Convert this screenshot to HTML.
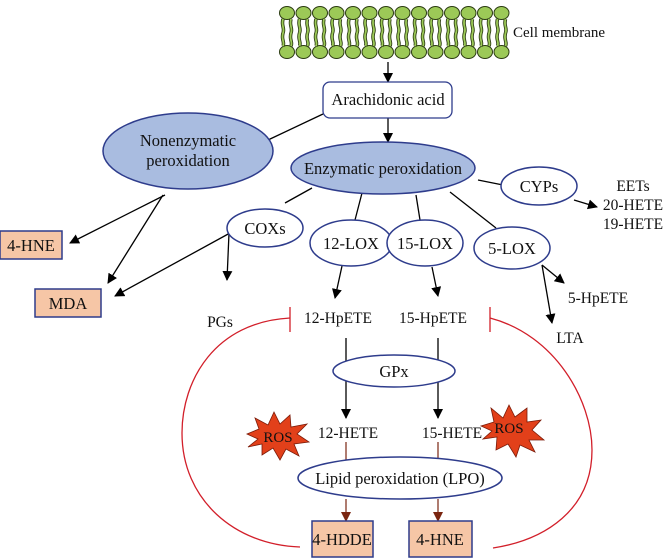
<!DOCTYPE html>
<html><head><meta charset="utf-8"><style>
html,body{margin:0;padding:0;background:#fff;}
svg{display:block;}
text{font-family:"Liberation Serif",serif;fill:#111;}
</style></head><body>
<svg width="669" height="558" viewBox="0 0 669 558" xmlns="http://www.w3.org/2000/svg">
<defs>
<marker id="ab" markerWidth="10" markerHeight="10" refX="9" refY="5" orient="auto" markerUnits="userSpaceOnUse"><path d="M0,0 L10,5 L0,10 z" fill="#000"/></marker>
<marker id="ar" markerWidth="10" markerHeight="10" refX="9" refY="5" orient="auto" markerUnits="userSpaceOnUse"><path d="M0,0 L10,5 L0,10 z" fill="#7a2510"/></marker>
<g id="lip">
<ellipse cx="8" cy="13" rx="7.5" ry="6.5" fill="#9cc957" stroke="#2a3a10" stroke-width="1"/>
<ellipse cx="8" cy="52" rx="7.5" ry="6.5" fill="#9cc957" stroke="#2a3a10" stroke-width="1"/>
<path d="M4,19 C2,26 6,28 4,33 M12,19 C10,26 14,28 12,33 M4,33 C2,40 6,42 4,46 M12,33 C10,40 14,42 12,46" stroke="#2a3a10" stroke-width="3.5" fill="none"/>
<path d="M4,19 C2,26 6,28 4,33 M12,19 C10,26 14,28 12,33 M4,33 C2,40 6,42 4,46 M12,33 C10,40 14,42 12,46" stroke="#9cc957" stroke-width="1.8" fill="none"/>
</g>
</defs>
<use href="#lip" x="279"/><use href="#lip" x="295.5"/><use href="#lip" x="312"/><use href="#lip" x="328.5"/><use href="#lip" x="345"/><use href="#lip" x="361.5"/><use href="#lip" x="378"/><use href="#lip" x="394.5"/><use href="#lip" x="411"/><use href="#lip" x="427.5"/><use href="#lip" x="444"/><use href="#lip" x="460.5"/><use href="#lip" x="477"/><use href="#lip" x="493.5"/>
<text x="513" y="37" font-size="15">Cell membrane</text>

<g stroke="#000" stroke-width="1.3" fill="none">
<line x1="388" y1="62" x2="388" y2="82" marker-end="url(#ab)"/>
<line x1="388" y1="118" x2="388" y2="142" marker-end="url(#ab)"/>
<line x1="323" y1="114" x2="268" y2="140"/>
<line x1="312" y1="188" x2="285" y2="203"/>
<line x1="362" y1="193" x2="355" y2="220"/>
<line x1="416" y1="195" x2="420" y2="220"/>
<line x1="450" y1="192" x2="496" y2="228"/>
<line x1="478" y1="180" x2="503" y2="185"/>
<line x1="574" y1="200" x2="597" y2="207" marker-end="url(#ab)"/>
<line x1="165" y1="195" x2="70" y2="243" marker-end="url(#ab)"/>
<line x1="163" y1="195" x2="108" y2="283" marker-end="url(#ab)"/>
<line x1="230" y1="233" x2="115" y2="296" marker-end="url(#ab)"/>
<line x1="229" y1="233" x2="227" y2="280" marker-end="url(#ab)"/>
<line x1="342" y1="266" x2="335" y2="298" marker-end="url(#ab)"/>
<line x1="432" y1="267" x2="438" y2="296" marker-end="url(#ab)"/>
<line x1="542" y1="265" x2="564" y2="283" marker-end="url(#ab)"/>
<line x1="542" y1="265" x2="552" y2="323" marker-end="url(#ab)"/>
<line x1="346" y1="338" x2="346" y2="418" marker-end="url(#ab)"/>
<line x1="438" y1="338" x2="438" y2="418" marker-end="url(#ab)"/>
</g>
<g stroke="#7a2510" stroke-width="1.2">
<line x1="346" y1="442" x2="346" y2="460"/>
<line x1="438" y1="442" x2="438" y2="460"/>
<line x1="346" y1="499" x2="346" y2="521" marker-end="url(#ar)"/>
<line x1="438" y1="499" x2="438" y2="521" marker-end="url(#ar)"/>
</g>
<g stroke="#d21f2a" stroke-width="1.3" fill="none">
<path d="M290,318 C215,322 182,380 182,433 C182,500 235,545 300,547"/>
<line x1="290" y1="307" x2="290" y2="332"/>
<path d="M490,318 C555,335 592,400 592,450 C592,510 545,540 493,548"/>
<line x1="490" y1="307" x2="490" y2="332"/>
</g>

<rect x="323" y="82" width="129" height="36" rx="7" fill="#fff" stroke="#2e3c8c" stroke-width="1.3"/>
<text x="388" y="105" font-size="16.5" text-anchor="middle">Arachidonic acid</text>

<g stroke="#2e3c8c" stroke-width="1.5">
<ellipse cx="188" cy="151" rx="85" ry="38" fill="#a9bce0"/>
<ellipse cx="383" cy="168" rx="92" ry="26" fill="#a9bce0"/>
<ellipse cx="539" cy="186" rx="38" ry="19" fill="#fff"/>
<ellipse cx="265" cy="228" rx="38" ry="19" fill="#fff"/>
<ellipse cx="351" cy="243" rx="41" ry="23" fill="#fff"/>
<ellipse cx="425" cy="243" rx="38" ry="23" fill="#fff"/>
<ellipse cx="512" cy="248" rx="38" ry="21" fill="#fff"/>
<ellipse cx="394" cy="371" rx="61" ry="16" fill="#fff"/>
<ellipse cx="400" cy="478" rx="102" ry="21" fill="#fff"/>
</g>
<g font-size="16.5" text-anchor="middle">
<text x="188" y="146">Nonenzymatic</text>
<text x="188" y="166">peroxidation</text>
<text x="383" y="174">Enzymatic peroxidation</text>
<text x="539" y="192">CYPs</text>
<text x="265" y="234">COXs</text>
<text x="351" y="249">12-LOX</text>
<text x="425" y="249">15-LOX</text>
<text x="512" y="254">5-LOX</text>
<text x="394" y="377">GPx</text>
<text x="400" y="484">Lipid peroxidation (LPO)</text>
</g>
<g font-size="15.5" text-anchor="middle">
<text x="633" y="191">EETs</text>
<text x="633" y="210">20-HETE</text>
<text x="633" y="229">19-HETE</text>
<text x="598" y="303">5-HpETE</text>
<text x="570" y="343">LTA</text>
<text x="220" y="327">PGs</text>
<text x="338" y="323">12-HpETE</text>
<text x="433" y="323">15-HpETE</text>
<text x="348" y="438">12-HETE</text>
<text x="452" y="438">15-HETE</text>
</g>
<g fill="#f6c6a6" stroke="#2e3c8c" stroke-width="1.5">
<rect x="0" y="231" width="62" height="28"/>
<rect x="35" y="289" width="66" height="28"/>
<rect x="312" y="521" width="61" height="36"/>
<rect x="409" y="521" width="63" height="36"/>
</g>
<g font-size="16.5" text-anchor="middle">
<text x="31" y="251">4-HNE</text>
<text x="68" y="309">MDA</text>
<text x="342" y="545">4-HDDE</text>
<text x="440" y="545">4-HNE</text>
</g>
<g fill="#e2401a" stroke="#7a1a08" stroke-width="0.8">
<polygon transform="translate(277,436)" points="-30,-2 -18,-7 -22,-18 -9,-11 -3,-24 3,-12 13,-21 14,-9 30,-12 20,-2 32,6 17,8 22,20 9,13 3,24 -4,12 -15,19 -15,8 -29,11 -19,3"/>
<polygon transform="translate(511,430)" points="-30,-4 -17,-8 -20,-22 -8,-12 -2,-25 4,-13 16,-22 16,-8 30,-10 21,0 33,10 18,10 24,22 9,15 5,27 -3,14 -15,20 -14,7 -28,9 -19,1"/>
</g>
<text x="278" y="442" font-size="15" text-anchor="middle">ROS</text>
<text x="509" y="433" font-size="15" text-anchor="middle">ROS</text>
</svg>
</body></html>
